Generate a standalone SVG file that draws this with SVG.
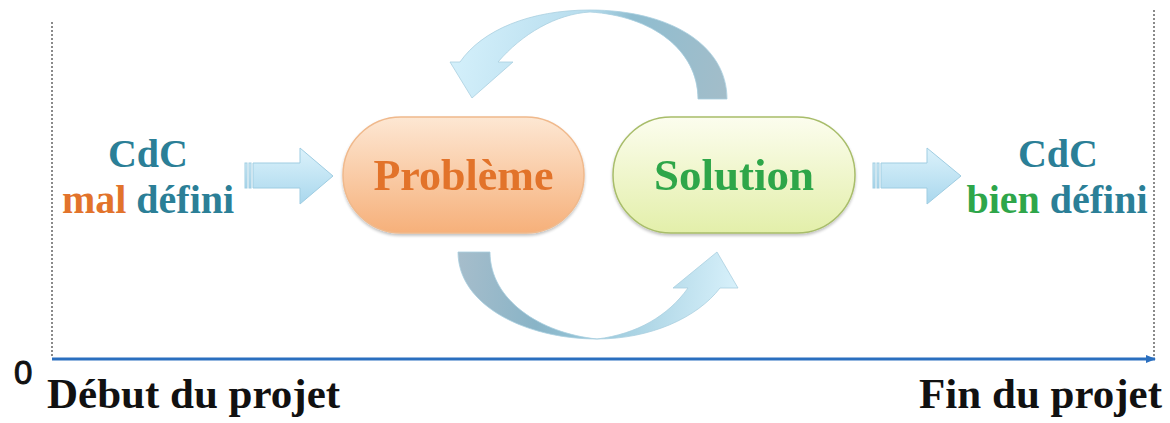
<svg xmlns="http://www.w3.org/2000/svg" width="1170" height="423" viewBox="0 0 1170 423">
<style>
.teal{fill:#2b7f97}
.orange{fill:#e2732b}
.green{fill:#2ea64a}
.black{fill:#111}
.dots{stroke:#8a8a8a;stroke-width:2;stroke-dasharray:2 2;fill:none}
.sarrow{fill:url(#gStraight);stroke:#9fcde2;stroke-width:1}
</style>
<defs>
<linearGradient id="gProb" x1="0" y1="0" x2="0" y2="1">
<stop offset="0" stop-color="#fde7d3"/>
<stop offset="1" stop-color="#f6b07a"/>
</linearGradient>
<linearGradient id="gSol" x1="0" y1="0" x2="0" y2="1">
<stop offset="0" stop-color="#fcfdee"/>
<stop offset="1" stop-color="#e3efaa"/>
</linearGradient>
<linearGradient id="gStraight" x1="0" y1="0" x2="0" y2="1">
<stop offset="0" stop-color="#dcf2fb"/>
<stop offset="1" stop-color="#a9d7ed"/>
</linearGradient>
<linearGradient id="gTop" gradientUnits="userSpaceOnUse" x1="455" y1="40" x2="728" y2="100">
<stop offset="0" stop-color="#d4f0fb"/>
<stop offset="0.45" stop-color="#b6dced"/>
<stop offset="0.6" stop-color="#8fbdd0"/>
<stop offset="1" stop-color="#a3bdc9"/>
</linearGradient>
<linearGradient id="gBot" gradientUnits="userSpaceOnUse" x1="458" y1="260" x2="738" y2="290">
<stop offset="0" stop-color="#a6bdcb"/>
<stop offset="0.3" stop-color="#89b4c7"/>
<stop offset="0.5" stop-color="#97c7da"/>
<stop offset="1" stop-color="#d8f1fb"/>
</linearGradient>
<filter id="sh" x="-10%" y="-10%" width="120%" height="130%">
<feGaussianBlur in="SourceAlpha" stdDeviation="1.5"/>
<feOffset dx="0" dy="2" result="b"/>
<feComponentTransfer><feFuncA type="linear" slope="0.25"/></feComponentTransfer>
<feMerge><feMergeNode/><feMergeNode in="SourceGraphic"/></feMerge>
</filter>
<marker id="axHead" markerWidth="10" markerHeight="8" refX="9" refY="4" orient="auto" markerUnits="userSpaceOnUse">
<path d="M0,0 L10,4 L0,8 Z" fill="#2a6fbf"/>
</marker>
</defs>

<g id="frame">
<line class="dots" x1="52" y1="22" x2="52" y2="358"/>
<line class="dots" x1="1154" y1="10" x2="1154" y2="358"/>
</g>

<g id="connectors">
<line id="axis" x1="52" y1="359" x2="1155" y2="359" stroke="#2a6fbf" stroke-width="3" marker-end="url(#axHead)"/>
<g id="arrow-left">
<rect x="245" y="163" width="2" height="25" class="sarrow"/>
<rect x="249" y="163" width="2" height="25" class="sarrow"/>
<path class="sarrow" d="M253,163 L300,163 L300,148 L333,176 L300,204 L300,188 L253,188 Z"/>
</g>
<g id="arrow-right">
<rect x="873" y="163" width="2" height="25" class="sarrow"/>
<rect x="877" y="163" width="2" height="25" class="sarrow"/>
<path class="sarrow" d="M881,163 L927,163 L927,148 L961,176 L927,204 L927,188 L881,188 Z"/>
</g>
<path id="arrow-top" fill="url(#gTop)" stroke="#a9cfdf" stroke-width="0.8" d="M727,99 C727,45 670,10 590,10 C530,10 482,30 460,62 L450,62 L472,98 L513,62 L498,62 C522,34 556,14 590,12 C652,16 698,50 698,99 Z"/>
<path id="arrow-bottom" fill="url(#gBot)" stroke="#a9cfdf" stroke-width="0.8" d="M458,252 C458,305 525,339 597,339 C650,339 697,318 720,288 L738,288 L717,252 L673,288 L688,288 C668,316 637,334 597,339 C540,333 490,300 490,252 Z"/>
</g>

<g id="node-probleme" filter="url(#sh)">
<rect x="343" y="117" width="241" height="116" rx="58" ry="58" fill="url(#gProb)" stroke="#f0b98c" stroke-width="1.5"/>
<text class="orange" font-family="Liberation Serif, DejaVu Serif, Times New Roman, serif" font-weight="bold" x="463.5" y="190" font-size="44" text-anchor="middle">Problème</text>
</g>

<g id="node-solution" filter="url(#sh)">
<rect x="613" y="117" width="242" height="116" rx="58" ry="58" fill="url(#gSol)" stroke="#a8bd6a" stroke-width="1.5"/>
<text class="green" font-family="Liberation Serif, DejaVu Serif, Times New Roman, serif" font-weight="bold" x="734" y="190" font-size="45" text-anchor="middle">Solution</text>
</g>

<g id="node-cdc-mal" font-family="Liberation Serif, DejaVu Serif, Times New Roman, serif" font-weight="bold">
<text class="teal" x="148" y="167" font-size="40" text-anchor="middle">CdC</text>
<text x="148" y="213" font-size="40" text-anchor="middle"><tspan class="orange">mal</tspan><tspan class="teal"> défini</tspan></text>
</g>

<g id="node-cdc-bien" font-family="Liberation Serif, DejaVu Serif, Times New Roman, serif" font-weight="bold">
<text class="teal" x="1058" y="167" font-size="40" text-anchor="middle">CdC</text>
<text x="1057" y="213" font-size="40" text-anchor="middle"><tspan class="green">bien</tspan><tspan class="teal"> défini</tspan></text>
</g>

<g id="labels">
<text x="14" y="384" font-family="Liberation Sans, Arial, sans-serif" font-size="33" fill="#111" stroke="#111" stroke-width="1">0</text>
<text class="black" font-family="Liberation Serif, DejaVu Serif, Times New Roman, serif" font-weight="bold" x="47" y="408" font-size="43">Début du projet</text>
<text class="black" font-family="Liberation Serif, DejaVu Serif, Times New Roman, serif" font-weight="bold" x="1162" y="408" font-size="43" text-anchor="end">Fin du projet</text>
</g>
</svg>
